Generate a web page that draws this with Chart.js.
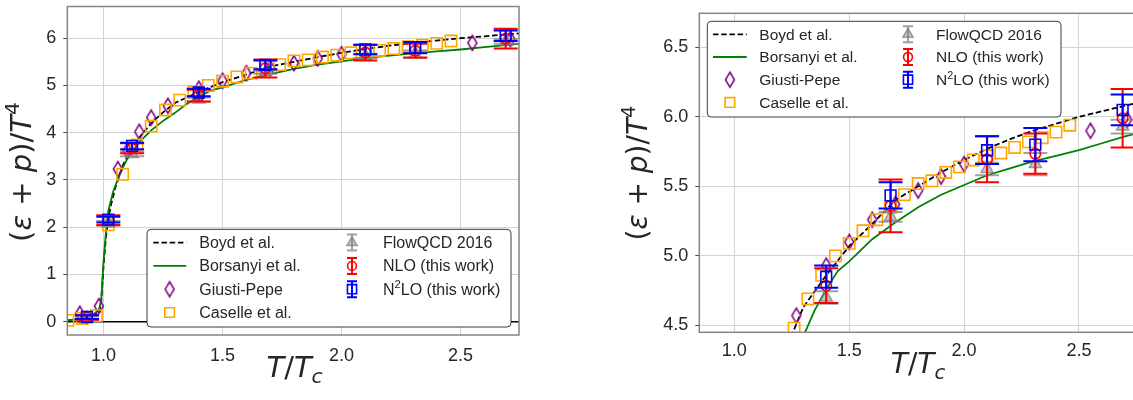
<!DOCTYPE html>
<html><head><meta charset="utf-8">
<script src="https://cdn.jsdelivr.net/npm/chart.js@4.4.1/dist/chart.umd.min.js"></script>
<style>
html,body{margin:0;padding:0;background:#fff;overflow:hidden;width:1133px;height:400px;}
#wrapL{position:absolute;left:0;top:-20px;width:560px;height:420px;}
#wrapR{position:absolute;left:560px;top:-20px;width:600px;height:420px;}
canvas{display:block;}
</style></head><body>
<div id="wrapL"><canvas id="cL" width="560" height="420"></canvas></div>
<div id="wrapR"><canvas id="cR" width="600" height="420"></canvas></div>
<script>
// ---------------- data ----------------
const xTicks = [1.0, 1.5, 2.0, 2.5];
const yTicksFull = [0, 1, 2, 3, 4, 5, 6];
const yTicksZoom = [4.5, 5.0, 5.5, 6.0, 6.5];
const zeroLine = 0;

const boydT = [0.85, 0.90, 0.95, 0.98, 0.99, 1.00, 1.01, 1.02, 1.03, 1.05, 1.08, 1.10, 1.15, 1.20, 1.25, 1.30, 1.40, 1.50, 1.60, 1.70, 1.80, 1.90, 2.00, 2.10, 2.20, 2.30, 2.40, 2.50, 2.60, 2.70, 2.75];
const boydV = [0.03, 0.06, 0.12, 0.20, 0.40, 1.20, 1.80, 2.20, 2.45, 2.85, 3.30, 3.50, 3.90, 4.20, 4.43, 4.63, 4.86, 5.07, 5.23, 5.40, 5.50, 5.60, 5.69, 5.77, 5.84, 5.90, 5.95, 6.00, 6.04, 6.08, 6.10];

const borsT = [0.85, 0.90, 0.95, 0.98, 0.99, 1.00, 1.01, 1.02, 1.04, 1.06, 1.08, 1.10, 1.15, 1.20, 1.25, 1.30, 1.35, 1.40, 1.45, 1.50, 1.60, 1.70, 1.80, 1.90, 2.00, 2.10, 2.20, 2.30, 2.40, 2.50, 2.60, 2.70, 2.75];
const borsV = [0.03, 0.06, 0.13, 0.25, 0.45, 1.30, 1.90, 2.35, 2.75, 3.02, 3.25, 3.45, 3.80, 4.05, 4.25, 4.42, 4.61, 4.76, 4.89, 4.96, 5.12, 5.24, 5.35, 5.44, 5.51, 5.58, 5.63, 5.68, 5.72, 5.76, 5.81, 5.86, 5.88];

const giustiT = [0.90, 0.98, 1.06, 1.10, 1.15, 1.20, 1.27, 1.40, 1.50, 1.60, 1.70, 1.80, 1.90, 2.00, 2.55, 2.71];
const giustiV = [0.17, 0.33, 3.23, 3.62, 4.02, 4.32, 4.57, 4.93, 5.10, 5.26, 5.37, 5.47, 5.57, 5.66, 5.90, 5.98];

const caselleT = [0.85, 0.91, 0.97, 1.02, 1.08, 1.14, 1.20, 1.26, 1.32, 1.38, 1.44, 1.50, 1.56, 1.62, 1.68, 1.74, 1.80, 1.86, 1.92, 1.98, 2.04, 2.10, 2.16, 2.22, 2.28, 2.34, 2.40, 2.46];
const caselleV = [0.03, 0.07, 0.13, 2.05, 3.12, 3.74, 4.14, 4.48, 4.69, 4.86, 5.00, 5.09, 5.18, 5.26, 5.35, 5.44, 5.52, 5.54, 5.60, 5.64, 5.69, 5.72, 5.74, 5.78, 5.82, 5.85, 5.89, 5.94];

const flowT = [0.93, 1.02, 1.12, 1.40, 1.68, 2.10, 2.31, 2.69];
const flowV = [0.08, 2.08, 3.55, 4.70, 5.28, 5.625, 5.66, 5.93];
const flowE = [0.03, 0.05, 0.05, 0.045, 0.035, 0.045, 0.08, 0.05];

const nloT = [0.93, 1.02, 1.12, 1.40, 1.68, 2.10, 2.31, 2.69];
const nloV = [0.09, 2.15, 3.67, 4.785, 5.36, 5.695, 5.735, 5.99];
const nloE = [0.05, 0.105, 0.105, 0.125, 0.19, 0.165, 0.145, 0.21];

const n2loT = [0.93, 1.02, 1.12, 1.40, 1.68, 2.10, 2.31, 2.69];
const n2loV = [0.10, 2.16, 3.72, 4.85, 5.435, 5.76, 5.80, 6.05];
const n2loE = [0.04, 0.06, 0.07, 0.08, 0.095, 0.10, 0.12, 0.11];

// ---------------- styles ----------------
const FONT = '"Liberation Sans", Arial, sans-serif';
const MATHFONT = '"DejaVu Sans", sans-serif';
const TXT = '#262626';
const GRID = '#d3d3d3';
const SPINE = '#858585';
const C_GRAY = 'rgba(128,128,128,0.75)';
const C_GRAYF = 'rgba(128,128,128,0.45)';

function diamondCanvas(color, w, h, lw) {
  const c = document.createElement('canvas');
  c.width = Math.ceil(w + lw * 2 + 2); c.height = Math.ceil(h + lw * 2 + 2);
  const g = c.getContext('2d');
  g.strokeStyle = color; g.lineWidth = lw; g.lineJoin = 'miter';
  const cx = c.width / 2, cy = c.height / 2;
  g.beginPath();
  g.moveTo(cx, cy - h / 2); g.lineTo(cx + w / 2, cy); g.lineTo(cx, cy + h / 2); g.lineTo(cx - w / 2, cy); g.closePath();
  g.stroke();
  return c;
}
const DIAMOND = diamondCanvas('#800080', 9, 15, 1.5);

const pts = (T, V) => T.map((t, i) => ({x: t, y: V[i]}));

function makeDatasets() {
  return [
    {label: 'Boyd et al.', data: pts(boydT, boydV), showLine: true, borderColor: '#000', borderWidth: 1.8,
     borderDash: [5.5, 2.7], pointRadius: 0, fill: false, order: 7, clip: 0},
    {label: 'Borsanyi et al.', data: pts(borsT, borsV), showLine: true, borderColor: '#008000', borderWidth: 1.8,
     pointRadius: 0, fill: false, order: 6, clip: 0},
    {label: 'Giusti-Pepe', data: pts(giustiT, giustiV), showLine: false, pointStyle: DIAMOND, pointRadius: 7,
     order: 5, clip: 0},
    {label: 'Caselle et al.', data: pts(caselleT, caselleV), showLine: false, pointStyle: 'rect', pointRadius: 8,
     borderColor: '#FFA500', backgroundColor: 'rgba(0,0,0,0)', pointBorderWidth: 1.6, order: 4, clip: 0},
    {label: 'FlowQCD 2016', data: pts(flowT, flowV), err: flowE, errColor: C_GRAY, showLine: false,
     pointStyle: 'triangle', pointRadius: 7, borderColor: C_GRAY, backgroundColor: C_GRAYF,
     pointBorderWidth: 1.5, order: 3, clip: 0},
    {label: 'NLO (this work)', data: pts(nloT, nloV), err: nloE, errColor: '#ff0000', showLine: false,
     pointStyle: 'circle', pointRadius: 5.2, borderColor: '#ff0000', backgroundColor: 'rgba(0,0,0,0)',
     pointBorderWidth: 1.6, order: 2, clip: 0},
    {label: 'N\u00B2LO (this work)', labelRuns: [['N', 0], ['2', 1], ['LO (this work)', 0]],
     data: pts(n2loT, n2loV), err: n2loE, errColor: '#0000ff', showLine: false,
     pointStyle: 'rect', pointRadius: 7.6, borderColor: '#0000ff', backgroundColor: 'rgba(0,0,0,0)',
     pointBorderWidth: 1.6, order: 1, clip: 0}
  ];
}

// ---------------- plugins ----------------
const CAP = 12;
const errPlugin = {
  id: 'errbars',
  beforeDatasetDraw(chart, args) {
    const ds = chart.data.datasets[args.index];
    if (!ds.err) return;
    const ctx = chart.ctx, xs = chart.scales.x, ys = chart.scales.y, ca = chart.chartArea;
    ctx.save();
    ctx.beginPath(); ctx.rect(ca.left, ca.top, ca.right - ca.left, ca.bottom - ca.top); ctx.clip();
    ctx.strokeStyle = ds.errColor; ctx.lineWidth = 2;
    ds.data.forEach((p, i) => {
      const e = ds.err[i];
      const px = xs.getPixelForValue(p.x);
      const y1 = ys.getPixelForValue(p.y - e), y2 = ys.getPixelForValue(p.y + e);
      ctx.beginPath();
      ctx.moveTo(px, y1); ctx.lineTo(px, y2);
      ctx.moveTo(px - CAP, y1); ctx.lineTo(px + CAP, y1);
      ctx.moveTo(px - CAP, y2); ctx.lineTo(px + CAP, y2);
      ctx.stroke();
    });
    ctx.restore();
  }
};

function runFont(s, size) {
  const it = (s === 'i' || s === 'sub') ? 'italic ' : '';
  const sz = (s === 'sup' || s === 'sub') ? size * 0.7 : size;
  return it + sz.toFixed(1) + 'px ' + MATHFONT;
}
function drawRuns(ctx, runs, size, cx, cy, rotate) {
  ctx.save();
  let total = 0;
  runs.forEach(r => { ctx.font = runFont(r.s, size); r.w = ctx.measureText(r.t).width; total += r.w; });
  ctx.translate(cx, cy);
  if (rotate) ctx.rotate(-Math.PI / 2);
  ctx.fillStyle = TXT; ctx.textBaseline = 'alphabetic'; ctx.textAlign = 'left';
  let x = -total / 2;
  runs.forEach(r => {
    ctx.font = runFont(r.s, size);
    const dy = r.s === 'sup' ? -size * 0.42 : (r.s === 'sub' ? size * 0.2 : 0);
    ctx.fillText(r.t, x, dy);
    x += r.w;
  });
  ctx.restore();
}
const Y_TITLE = [{t: '(', s: 'n'}, {t: 'ε', s: 'i'}, {t: ' + ', s: 'n'}, {t: 'p', s: 'i'}, {t: ')/', s: 'n'}, {t: 'T', s: 'i'}, {t: '4', s: 'sup'}];
const X_TITLE = [{t: 'T', s: 'i'}, {t: '/', s: 'n'}, {t: 'T', s: 'i'}, {t: 'c', s: 'sub'}];

function drawHandle(ctx, ds, kind, cx, cy, x0, x1) {
  ctx.save();
  if (kind === 'line') {
    ctx.strokeStyle = ds.borderColor; ctx.lineWidth = ds.borderWidth;
    ctx.setLineDash(ds.borderDash || []);
    ctx.beginPath(); ctx.moveTo(x0, cy); ctx.lineTo(x1, cy); ctx.stroke();
  } else {
    if (ds.err) {
      ctx.strokeStyle = ds.errColor; ctx.lineWidth = 2;
      ctx.beginPath();
      ctx.moveTo(cx, cy - 8); ctx.lineTo(cx, cy + 8);
      ctx.moveTo(cx - 5, cy - 8); ctx.lineTo(cx + 5, cy - 8);
      ctx.moveTo(cx - 5, cy + 8); ctx.lineTo(cx + 5, cy + 8);
      ctx.stroke();
    }
    if (ds.pointStyle instanceof HTMLCanvasElement) {
      ctx.drawImage(ds.pointStyle, cx - ds.pointStyle.width / 2, cy - ds.pointStyle.height / 2);
    } else {
      ctx.strokeStyle = ds.borderColor; ctx.fillStyle = ds.backgroundColor; ctx.lineWidth = ds.pointBorderWidth;
      Chart.helpers.drawPoint(ctx, {pointStyle: ds.pointStyle, radius: ds.pointRadius * 0.85, borderWidth: ds.pointBorderWidth, rotation: 0}, cx, cy);
    }
  }
  ctx.restore();
}

function drawLabel(ctx, ds, x, y, size) {
  ctx.fillStyle = TXT; ctx.textBaseline = 'middle'; ctx.textAlign = 'left';
  if (!ds.labelRuns) {
    ctx.font = size + 'px ' + FONT; ctx.fillText(ds.label, x, y); return;
  }
  ds.labelRuns.forEach(([t, sup]) => {
    const sz = sup ? size * 0.7 : size;
    ctx.font = sz.toFixed(1) + 'px ' + FONT;
    ctx.fillText(t, x, sup ? y - size * 0.33 : y);
    x += ctx.measureText(t).width;
  });
}

const decoPlugin = {
  id: 'deco',
  beforeDatasetsDraw(chart) {
    const P = chart.options.plugins.deco;
    if (!P.zero) return;
    const ctx = chart.ctx, ca = chart.chartArea, y = chart.scales.y.getPixelForValue(zeroLine);
    ctx.save(); ctx.strokeStyle = '#000'; ctx.lineWidth = 1.6;
    ctx.beginPath(); ctx.moveTo(ca.left, y); ctx.lineTo(ca.right, y); ctx.stroke(); ctx.restore();
  },
  afterDatasetsDraw(chart) {
    const ctx = chart.ctx, ca = chart.chartArea;
    ctx.save(); ctx.strokeStyle = SPINE; ctx.lineWidth = 1.5;
    ctx.strokeRect(ca.left, ca.top, ca.right - ca.left, ca.bottom - ca.top); ctx.restore();
  },
  afterDraw(chart) {
    const P = chart.options.plugins.deco;
    const ctx = chart.ctx, ca = chart.chartArea;
    drawRuns(ctx, Y_TITLE, P.titleSize, P.yTitleX, P.yTitleY, true);
    drawRuns(ctx, X_TITLE, P.titleSize, P.xTitleX, P.xTitleY, false);
    const L = P.legend;
    const bx = L.loc === 'lr' ? ca.right - L.margin - L.w : ca.left + L.margin;
    const by = L.loc === 'lr' ? ca.bottom - L.margin - L.h : ca.top + L.margin;
    ctx.save();
    ctx.beginPath();
    if (ctx.roundRect) ctx.roundRect(bx, by, L.w, L.h, 4); else ctx.rect(bx, by, L.w, L.h);
    ctx.fillStyle = '#fff'; ctx.fill();
    ctx.strokeStyle = '#3a3a3a'; ctx.lineWidth = 1; ctx.stroke();
    const dsets = chart.data.datasets;
    const cols = [[0, 1, 2, 3], [4, 5, 6]];
    cols.forEach((col, ci) => {
      col.forEach((di, ri) => {
        const ds = dsets[di];
        const cy = by + L.row0 + ri * L.rowH;
        const kind = ds.showLine ? 'line' : 'marker';
        drawHandle(ctx, ds, kind, bx + L.hx[ci], cy, bx + L.lx0, bx + L.lx1);
        drawLabel(ctx, ds, bx + L.tx[ci], cy + 1, L.font);
      });
    });
    ctx.restore();
  }
};

function makeChart(id, P) {
  return new Chart(document.getElementById(id), {
    type: 'scatter',
    data: {datasets: makeDatasets()},
    plugins: [errPlugin, decoPlugin],
    options: {
      responsive: false, animation: false, devicePixelRatio: 1, events: [],
      layout: {padding: {left: 0, top: P.top, right: P.right, bottom: 0}},
      plugins: {legend: {display: false}, tooltip: {enabled: false}, deco: P},
      scales: {
        x: {
          type: 'linear', min: 0.8475, max: 2.746,
          afterBuildTicks: s => { s.ticks = xTicks.map(v => ({value: v})); },
          ticks: {callback: v => Number(v).toFixed(1), font: {family: FONT, size: P.tick}, color: TXT, padding: P.xPad, maxRotation: 0, autoSkip: false},
          grid: {color: GRID, lineWidth: 1, drawTicks: false},
          border: {display: false},
          afterFit: s => { s.height = P.xH; }
        },
        y: {
          type: 'linear', min: P.yMin, max: P.yMax,
          afterBuildTicks: s => { s.ticks = P.yTicks.map(v => ({value: v})); },
          ticks: {callback: v => Number(v).toFixed(P.yDec), font: {family: FONT, size: P.tick}, color: TXT, padding: 7, autoSkip: false},
          grid: {color: GRID, lineWidth: 1, drawTicks: true, tickLength: 4, tickColor: '#444', tickWidth: 1},
          border: {display: false},
          afterFit: s => { s.width = P.yW; }
        }
      }
    }
  });
}

makeChart('cL', {
  top: 26.5, right: 41, yW: 67.3, xH: 65, yMin: -0.28, yMax: 6.67, yTicks: yTicksFull, yDec: 0,
  tick: 18, xPad: 10, zero: true, titleSize: 29,
  yTitleX: 41 - 10, yTitleY: 172 + 20, xTitleX: 294.6, xTitleY: 387 + 20 - 10,
  legend: {loc: 'lr', margin: 8, w: 364, h: 97.7, row0: 13.3, rowH: 23.3, hx: [22.6, 205], lx0: 6.3, lx1: 39.3, tx: [52.3, 236], font: 16}
});
makeChart('cR', {
  top: 33.3, right: 24.5, yW: 139.3, xH: 67.7, yMin: 4.45, yMax: 6.745, yTicks: yTicksZoom, yDec: 1,
  tick: 18, xPad: 8, zero: false, titleSize: 28,
  yTitleX: 657 - 560 - 10, yTitleY: 173 + 20, xTitleX: 918 - 560, xTitleY: 383.3 + 20 - 10,
  legend: {loc: 'ul', margin: 8, w: 353.7, h: 95.7, row0: 13, rowH: 22.7, hx: [22.6, 200.7], lx0: 5.7, lx1: 39.4, tx: [52, 228.7], font: 15.5}
});
</script></body></html>
